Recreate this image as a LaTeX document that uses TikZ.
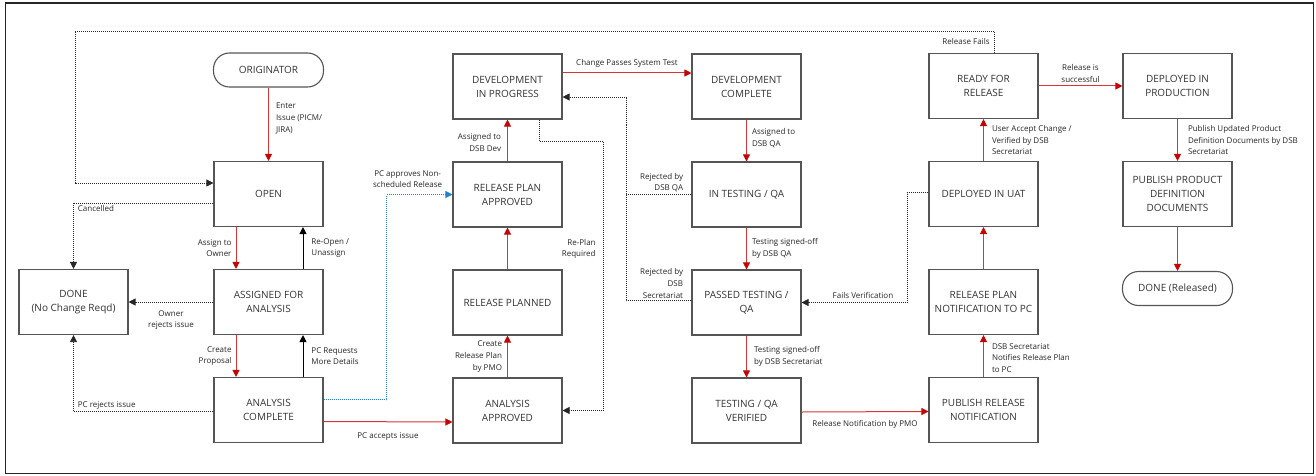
\documentclass[tikz,border=0pt]{standalone}
\usepackage{fontspec}
\setmainfont{Open Sans}
\usetikzlibrary{arrows.meta}

\definecolor{flowred}{RGB}{212,55,55}
\definecolor{tipred}{RGB}{195,5,5}
\definecolor{planblue}{RGB}{30,130,215}
\definecolor{boxline}{RGB}{85,85,85}

\gdef\boxfont{\fontsize{10}{14}\selectfont}
\gdef\lblfont{\fontsize{8}{11.7}\selectfont}

\begin{document}
\begin{tikzpicture}[x=1pt, y=1pt, ->, >={Triangle[length=7pt,width=7pt]},
  node distance=108pt,
  state/.style={draw=boxline, line width=1.1pt, minimum width=109pt, minimum height=65pt, align=center, font=\boxfont, text=black!80, inner sep=2pt},
  term/.style={draw=boxline, line width=1.1pt, rounded corners=16pt, minimum width=110pt, minimum height=34pt, font=\boxfont, text=black!80},
  lbl/.style={font=\lblfont, text=black!85, inner sep=2pt},
  go/.style={flowred, line width=1pt, -{Triangle[length=7pt,width=7pt,color=tipred]}},
  ret/.style={black, line width=0.9pt},
  alt/.style={black!85, line width=0.8pt, dash pattern=on 1pt off 1pt},
  plan/.style={planblue, line width=0.9pt, dash pattern=on 1pt off 1pt}]

\useasboundingbox (0,0) rectangle (1316,475);
\draw[-, line width=1.3pt, black!85] (5.5,1.5) rectangle (1313.5,472);

\node[term] (orig) at (268.5,405) {ORIGINATOR};
\node[state] (open) at (268.5,281) {OPEN};
\node[state] (assigned) [below of=open] {ASSIGNED FOR\\ANALYSIS};
\node[state] (anacomp) [below of=assigned] {ANALYSIS\\COMPLETE};
\node[state] (noreqd) at (73.5,173) {DONE\\(No Change Reqd)};

\node[state] (devprog) at (507.5,388.5) {DEVELOPMENT\\IN PROGRESS};
\node[state] (rpapp) [below of=devprog] {RELEASE PLAN\\APPROVED};
\node[state] (rplan) [below of=rpapp] {RELEASE PLANNED};
\node[state] (anaapp) [below of=rplan] {ANALYSIS\\APPROVED};

\node[state] (devcomp) at (746.5,388.5) {DEVELOPMENT\\COMPLETE};
\node[state] (intest) [below of=devcomp] {IN TESTING / QA};
\node[state] (passed) [below of=intest] {PASSED TESTING /\\QA};
\node[state] (verified) [below of=passed] {TESTING / QA\\VERIFIED};

\node[state] (ready) at (983.5,389) {READY FOR\\RELEASE};
\node[state] (uat) [below of=ready] {DEPLOYED IN UAT};
\node[state] (rpnotif) [below of=uat] {RELEASE PLAN\\NOTIFICATION TO PC};
\node[state] (pubrel) [below of=rpnotif] {PUBLISH RELEASE\\NOTIFICATION};

\node[state] (prod) at (1177.5,389) {DEPLOYED IN\\PRODUCTION};
\node[state] (pubdocs) [below of=prod] {PUBLISH PRODUCT\\DEFINITION\\DOCUMENTS};
\node[term] (donerel) at (1177.5,186.5) {DONE (Released)};

% main flow
\path[go]
  (orig) edge node[lbl, right=5pt, align=left, pos=0.42] {Enter\\Issue (PICM/\\JIRA)} (open)
  ([xshift=-32.5pt]open.south) edge node[lbl, left=2pt, align=right] {Assign to\\Owner} ([xshift=-32.5pt]assigned.north)
  ([xshift=-32.5pt]assigned.south) edge node[lbl, left=2pt, align=right] {Create\\Proposal} ([xshift=-32.5pt]anacomp.north)
  ([yshift=-11.5pt]anacomp.east) edge node[lbl, below=8pt] {PC accepts issue} ([yshift=-11.5pt]anaapp.west)
  (anaapp) edge node[lbl, left=3pt, align=right] {Create\\Release Plan\\by PMO} (rplan)
  (rplan) edge (rpapp)
  (rpapp) edge node[lbl, left=4pt, align=right, pos=0.45] {Assigned to\\DSB Dev} (devprog)
  ([yshift=13.5pt]devprog.east) edge node[lbl, above=3pt] {Change Passes System Test} ([yshift=13.5pt]devcomp.west)
  (devcomp) edge node[lbl, right=3pt, align=left, pos=0.45] {Assigned to\\DSB QA} (intest)
  (intest) edge node[lbl, right=3pt, align=left] {Testing signed-off\\by DSB QA} (passed)
  (passed) edge node[lbl, right=5pt, align=left] {Testing signed-off\\by DSB Secretariat} (verified)
  ([yshift=-1.5pt]verified.east) edge node[lbl, below=6pt] {Release Notification by PMO} ([yshift=-1.5pt]pubrel.west)
  (pubrel) edge node[lbl, right=6pt, align=left, pos=0.45] {DSB Secretariat\\Notifies Release Plan\\to PC} (rpnotif)
  (rpnotif) edge (uat)
  (uat) edge node[lbl, right=6pt, align=left] {User Accept Change /\\Verified by DSB\\Secretariat} (ready)
  (ready) edge node[lbl, above=1pt, align=center] {Release is\\successful} (prod)
  (prod) edge node[lbl, right=8pt, align=left] {Publish Updated Product\\Definition Documents by DSB\\Secretariat} (pubdocs)
  (pubdocs) edge (donerel);

\path[ret]
  ([xshift=34.5pt]assigned.north) edge node[lbl, right=6pt, align=left] {Re-Open /\\Unassign} ([xshift=34.5pt]open.south)
  ([xshift=34.5pt]anacomp.north) edge node[lbl, right=6pt, align=left] {PC Requests\\More Details} ([xshift=34.5pt]assigned.south);

% rejections and loops
\draw[alt] ([xshift=10.5pt]ready.north) |- (75,444) node[lbl, left=2pt, pos=0.25] {Release Fails} |- ([yshift=11pt]open.west);
\draw[alt] ([yshift=-9pt]open.west) -| node[lbl, below right, xshift=2pt, pos=0.5] {Cancelled} (noreqd.north);
\draw[alt] (assigned.west) -- node[lbl, below=6pt, align=center] {Owner\\rejects issue} (noreqd.east);
\draw[alt] ([yshift=-1.5pt]anacomp.west) -| node[lbl, above right, xshift=2pt, pos=0.5] {PC rejects issue} (noreqd.south);
\draw[plan] ([yshift=10.5pt]anacomp.east) -- ++(63,0) |- node[lbl, above=4pt, align=center, pos=0.66] {PC approves Non-\\scheduled Release} (rpapp.west);
\draw[alt] ([xshift=31.5pt]devprog.south) |- (603,334) |- node[lbl, left=5pt, align=right, pos=0.2] {Re-Plan\\Required} (anaapp.east);
\draw[alt] (intest.west) node[lbl, anchor=south east, align=right, xshift=-6pt] {Rejected by\\DSB QA} -- ++(-65,0) coordinate (qajoin) |- ([yshift=-10.5pt]devprog.east);
\draw[alt, -] ([yshift=2pt]passed.west) node[lbl, anchor=south east, align=right, xshift=-6pt] {Rejected by\\DSB\\Secretariat} -| (qajoin);
\draw[alt] ([yshift=1.5pt]uat.west) -- ++(-21,0) |- node[lbl, above=2pt, pos=0.71] {Fails Verification} (passed.east);

\end{tikzpicture}
\end{document}
